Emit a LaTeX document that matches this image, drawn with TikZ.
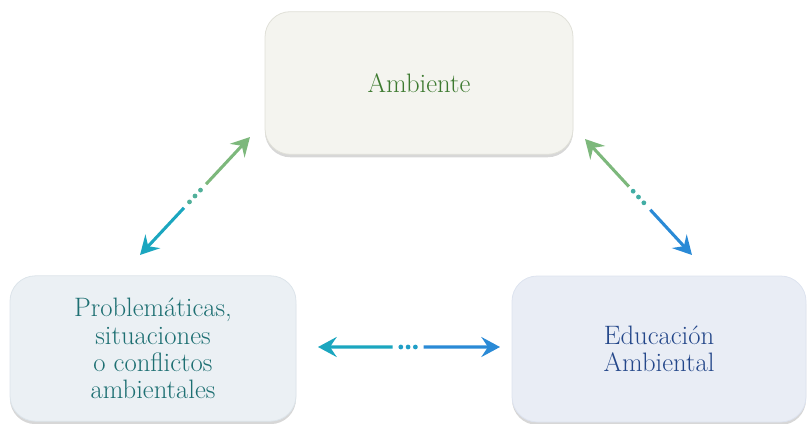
\documentclass[tikz,border=0pt]{standalone}
\usepackage{tikz}
\usetikzlibrary{arrows.meta,shadows,calc}

\definecolor{ambfill}{HTML}{F4F4EF}
\definecolor{ambline}{HTML}{E0E0D8}
\definecolor{ambtext}{HTML}{3D7A30}
\definecolor{profill}{HTML}{EBF0F4}
\definecolor{proline}{HTML}{DCE4EA}
\definecolor{protext}{HTML}{1D6F72}
\definecolor{edufill}{HTML}{E9EDF5}
\definecolor{eduline}{HTML}{DDE3EF}
\definecolor{edutext}{HTML}{24478A}
\definecolor{greenA}{HTML}{7DB87C}
\definecolor{tealA}{HTML}{1BA6BF}
\definecolor{blueA}{HTML}{2A8AD6}

\begin{document}
\begin{tikzpicture}[x=0.75pt,y=-0.75pt,
  box/.style={rounded corners=19pt, line width=0.6pt, align=center,
    font=\fontsize{20}{20.5}\selectfont,
    drop shadow={shadow xshift=0pt, shadow yshift=-2.2pt, opacity=0.35, fill=black!45}},
  tip/.style={line width=2.3pt, -{Stealth[length=14pt,width=15pt,inset=5pt]}},
  dot/.style={circle, inner sep=0pt, minimum size=3.6pt}]
\useasboundingbox (0,0) rectangle (809,424);

% boxes
\node[box, draw=ambline, fill=ambfill, text=ambtext, minimum width=231pt, minimum height=107pt] (amb) at (419,83) {Ambiente};
\node[box, draw=proline, fill=profill, text=protext, minimum width=214.5pt, minimum height=109pt] (pro) at (153,348.5)
  {Problemáticas,\\situaciones\\o conflictos\\ambientales};
\node[box, draw=eduline, fill=edufill, text=edutext, minimum width=220.5pt, minimum height=109.5pt] (edu) at (659,349)
  {Educación\\Ambiental};

% arrow ends
\coordinate (lt) at (250,137);
\coordinate (lb) at (140,255);
\coordinate (rt) at (585,139);
\coordinate (rb) at (692,255);
\coordinate (hl) at (318,347);
\coordinate (hr) at (500,347);

% Ambiente <-> Problematicas
\draw[tip, greenA] ($(lt)!0.40!(lb)$) -- (lt);
\draw[tip, tealA] ($(lt)!0.60!(lb)$) -- (lb);
\foreach \t in {0.45,0.50,0.55}
  \node[dot, fill=tealA!45!greenA] at ($(lt)!\t!(lb)$) {};

% Ambiente <-> Educacion
\draw[tip, greenA] ($(rt)!0.41!(rb)$) -- (rt);
\draw[tip, blueA] ($(rt)!0.61!(rb)$) -- (rb);
\foreach \t in {0.45,0.50,0.55}
  \node[dot, fill=tealA!60!greenA] at ($(rt)!\t!(rb)$) {};

% Problematicas <-> Educacion
\draw[tip, tealA] ($(hl)!0.41!(hr)$) -- (hl);
\draw[tip, blueA] ($(hl)!0.58!(hr)$) -- (hr);
\foreach \t in {0.455,0.495,0.535}
  \node[dot, fill=tealA!70!blueA] at ($(hl)!\t!(hr)$) {};
\end{tikzpicture}
\end{document}
